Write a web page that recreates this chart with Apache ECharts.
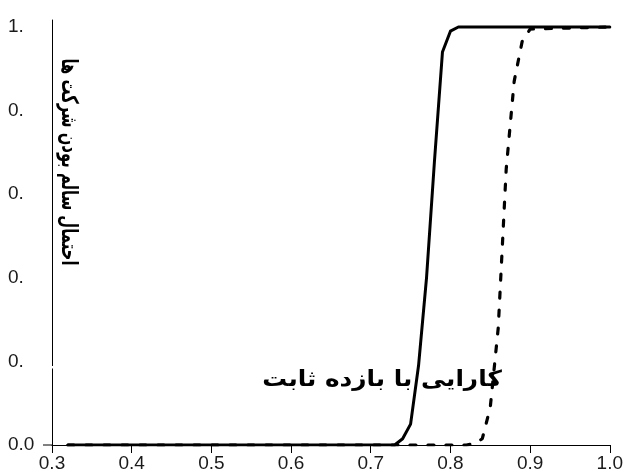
<!DOCTYPE html>
<html>
<head>
<meta charset="utf-8">
<script src="https://cdn.jsdelivr.net/npm/echarts@6/dist/echarts.min.js"></script>
<style>html,body{margin:0;padding:0;background:#fff}#c{width:626px;height:474px}</style>
</head>
<body>
<div id="c"></div>
<script>
// Solid curve
var solidX = [0.32, 0.73, 0.74, 0.75, 0.76, 0.77, 0.78, 0.79, 0.80, 0.81, 1.0];
var solidY = [0, 0, 0.015, 0.05, 0.19, 0.40, 0.68, 0.94, 0.99, 1.0, 1.0];
// Dashed curve
var dashX = [0.32, 0.82, 0.83, 0.84, 0.85, 0.86, 0.87, 0.88, 0.89, 0.90, 1.0];
var dashY = [0, 0, 0.003, 0.015, 0.09, 0.28, 0.66, 0.87, 0.965, 0.995, 1.0];
// Tick labels
var yTickLabels = {'0': '0.0', '0.2': '0.', '0.4': '0.', '0.6': '0.', '0.8': '0.', '1': '1.'};
var xTitle = 'کارایی با بازده ثابت';
var yTitle = 'احتمال سالم بودن شرکت ها';

function pairs(xs, ys) { return xs.map(function (x, i) { return [x, ys[i]]; }); }

var chart = echarts.init(document.getElementById('c'), null, {renderer: 'canvas'});
var numFont = '"Liberation Sans", Arial, sans-serif';
chart.setOption({
  animation: false,
  backgroundColor: '#ffffff',
  grid: {left: 52, right: 14, top: 20, bottom: 29, containLabel: false},
  xAxis: {
    type: 'value', min: 0.3, max: 1.0, interval: 0.1,
    axisLine: {show: true, lineStyle: {color: '#000', width: 1}},
    axisTick: {show: true, length: 8, lineStyle: {color: '#000'}},
    splitLine: {show: false},
    axisLabel: {color: '#1a1a1a', fontSize: 19, fontFamily: numFont, margin: 9,
      formatter: function (v) { return (Math.round(v * 10) / 10).toFixed(1); }}
  },
  yAxis: {
    type: 'value', min: 0, max: 1.0167, interval: 0.2,
    axisLine: {show: true, lineStyle: {color: '#000', width: 1}},
    axisTick: {show: false},
    splitLine: {show: false},
    axisLabel: {color: '#1a1a1a', fontSize: 19, fontFamily: numFont, margin: 44, align: 'left',
      showMaxLabel: false,
      formatter: function (v) {
        var r = Math.round(v * 10) / 10;
        if (Math.abs(v - r) > 1e-6) return '';
        var k = String(r);
        return yTickLabels[k] !== undefined ? yTickLabels[k] : '';
      }}
  },
  series: [
    {type: 'line', data: pairs(dashX, dashY), showSymbol: false, symbol: 'none', z: 2,
      lineStyle: {color: '#000', width: 3.2, type: [6, 12], cap: 'round'}},
    {type: 'line', data: pairs(solidX, solidY), showSymbol: false, symbol: 'none', z: 3,
      lineStyle: {color: '#000', width: 3, cap: 'round', join: 'round'}}
  ]
});

var p0 = chart.convertToPixel({gridIndex: 0}, [0.3, 0]);
chart.setOption({
  graphic: [
    {type: 'line', shape: {x1: p0[0] - 9, y1: p0[1], x2: p0[0], y2: p0[1]},
      style: {stroke: '#000', lineWidth: 1}, z: 10},
    {type: 'rect', shape: {x: p0[0] - 2, y: 366, width: 4, height: 2.5},
      style: {fill: '#fff'}, z: 10},
    {type: 'text', x: 68, y: 162, rotation: -Math.PI / 2, scaleX: 0.74, scaleY: 1.15,
      style: {text: yTitle, font: 'bold 20px "DejaVu Sans", sans-serif', fill: '#000',
        align: 'center', verticalAlign: 'middle'}, z: 20},
    {type: 'text', x: 382, y: 380, scaleX: 1.18, scaleY: 1.05,
      style: {text: xTitle, font: 'bold 21px "DejaVu Sans", sans-serif', fill: '#000',
        align: 'center', verticalAlign: 'middle'}, z: 20}
  ]
});
</script>
</body>
</html>
